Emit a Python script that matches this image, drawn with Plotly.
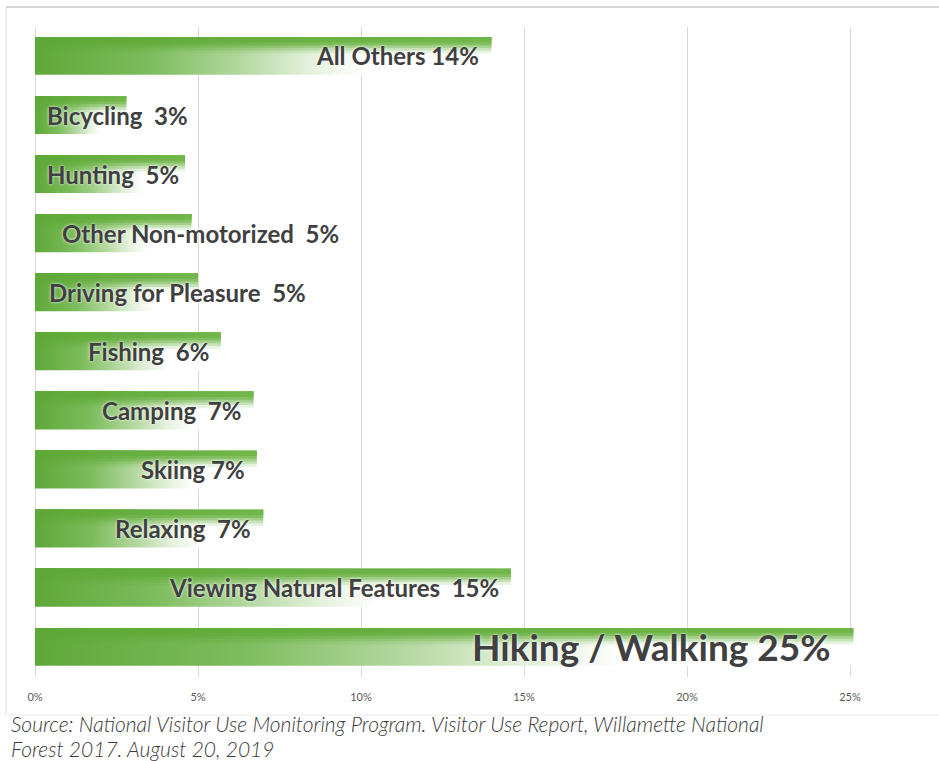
import plotly.graph_objects as go

# Share of visits by main activity (percent), bottom row first
activities = [
    "Hiking / Walking", "Viewing Natural Features", "Relaxing", "Skiing",
    "Camping", "Fishing", "Driving for Pleasure", "Other Non-motorized",
    "Hunting", "Bicycling", "All Others",
]
shares = [25.1, 14.6, 7.0, 6.8, 6.7, 5.7, 5.0, 4.8, 4.6, 2.8, 14.0]
label_gaps = [1, 2, 2, 1, 2, 2, 2, 2, 2, 2, 1]
tick_values = [0, 5, 10, 15, 20, 25]
tick_labels = ["0%", "5%", "10%", "15%", "20%", "25%"]
source_lines = [
    "Source: National Visitor Use Monitoring Program. Visitor Use Report, Willamette National",
    "Forest 2017. August 20, 2019",
]

# label placement: "end" = right-aligned at bar end, else left from the base
label_mode = ["end", "end", "end", "end", "end", "end",
              "base", "base", "base", "base", "end"]
base_offset = [0, 0, 0, 0, 0, 0, 0.37, 0.77, 0.3, 0.3, 0]

W, H = 939, 761
PLOT_L, PLOT_R, PLOT_T, PLOT_B = 35, 939, 27, 677
PX_PER_PCT = 32.6
BAR_HALF = 0.32

GREEN = (94, 168, 56)
TOP_END = (112, 182, 72)
WHITE = (255, 255, 255)
STOPS = [0.0, 0.25, 0.45, 0.6, 0.72, 1.0]
BOTTOM_PROFILE = [GREEN, (124, 188, 92), (180, 216, 160), (228, 241, 220), WHITE, WHITE]


def mix(a, b, t):
    return tuple(round(a[i] + (b[i] - a[i]) * t) for i in range(3))


def top_profile(p):
    return mix(GREEN, TOP_END, p)


def smoothstep(e0, e1, x):
    t = min(max((x - e0) / (e1 - e0), 0.0), 1.0)
    return t * t * (3 - 2 * t)


def rgb(c):
    return "rgb(%d,%d,%d)" % c


fig = go.Figure()

LAYERS = 14
for i, value in enumerate(shares):
    top = i + BAR_HALF
    h = 2 * BAR_HALF
    # stacked layers from the top edge: green along the top, fading to white lower right
    for j in reversed(range(LAYERS)):
        v = (j + 0.5) / LAYERS
        w = smoothstep(0.08, 0.5, v)
        scale = [[p, rgb(mix(top_profile(p), BOTTOM_PROFILE[k], w))]
                 for k, p in enumerate(STOPS)]
        y_low = top - h * (j + 1) / LAYERS
        fig.add_trace(go.Scatter(
            x=[0, value, value, 0, 0],
            y=[top, top, y_low, y_low, top],
            mode="lines", fill="toself",
            line=dict(width=0),
            fillgradient=dict(type="horizontal", colorscale=scale),
            hoverinfo="skip", showlegend=False,
        ))

label_font = dict(family="Lato, sans-serif", size=24, color="#404040",
                  weight="bold", shadow="0px 0px 3px white")
for i, (name, value) in enumerate(zip(activities, shares)):
    text = name + "&nbsp;" * label_gaps[i] + "%d%%" % round(value)
    font = dict(label_font)
    shift = -10
    if i == 0:
        font["size"] = 37
        shift = -20
    if label_mode[i] == "end":
        fig.add_annotation(x=value, y=i, text=text, showarrow=False,
                           xanchor="right", yanchor="middle", xshift=shift,
                           font=font)
    else:
        fig.add_annotation(x=base_offset[i], y=i, text=text, showarrow=False,
                           xanchor="left", yanchor="middle", font=font)

plot_w = PLOT_R - PLOT_L
plot_h = PLOT_B - PLOT_T


def px_x(px):
    return (px - PLOT_L) / plot_w


def px_y(py):
    return (PLOT_B - py) / plot_h


# light frame: top, left and bottom edges (open to the right)
frame = [((6, 7), (W, 7), "#d6d6d6", 2),
         ((6, 7), (6, 715), "#dedede", 1),
         ((6, 715), (W, 715), "#ececec", 1)]
for (xa, ya), (xb, yb), col, wd in frame:
    fig.add_shape(type="line", xref="paper", yref="paper",
                  x0=px_x(xa), x1=px_x(xb), y0=px_y(ya), y1=px_y(yb),
                  line=dict(color=col, width=wd), layer="below")

# source note, one annotation per line
for k, line in enumerate(source_lines):
    fig.add_annotation(xref="paper", yref="paper", x=px_x(9), y=px_y(723 + 25 * k),
                       xanchor="left", yanchor="middle", showarrow=False,
                       text="<i>" + line + "</i>",
                       font=dict(family="Lato, sans-serif", size=21, color="#3a3a3a",
                                 weight=300))

fig.update_layout(
    width=W, height=H,
    margin=dict(l=PLOT_L, r=W - PLOT_R, t=PLOT_T, b=H - PLOT_B, pad=0),
    paper_bgcolor="white", plot_bgcolor="white",
    xaxis=dict(range=[0, plot_w / PX_PER_PCT], tickvals=tick_values,
               ticktext=tick_labels, showgrid=True, gridcolor="#d9d9d9",
               gridwidth=1, zeroline=True, zerolinecolor="#d9d9d9",
               zerolinewidth=1, showline=False, ticks="outside", ticklen=10,
               tickcolor="rgba(0,0,0,0)",
               tickfont=dict(family="Lato, sans-serif", size=11, color="#595959"),
               fixedrange=True),
    yaxis=dict(range=[-0.51, 10.49], visible=False, fixedrange=True),
    showlegend=False,
)

fig.write_html("out.html")
